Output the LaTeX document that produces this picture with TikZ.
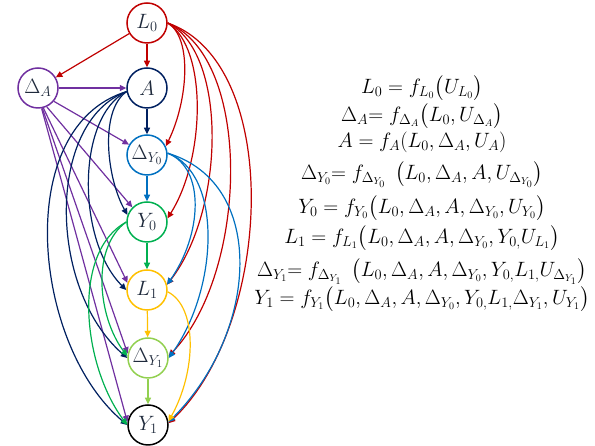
\documentclass[tikz,border=0pt]{standalone}
\usepackage{amsmath}
\usetikzlibrary{arrows.meta}

\definecolor{redL}{HTML}{C00000}
\definecolor{purpleDA}{HTML}{7030A0}
\definecolor{navyA}{HTML}{002060}
\definecolor{blueDY}{HTML}{0070C0}
\definecolor{greenY}{HTML}{00B050}
\definecolor{yellowL}{HTML}{FFC000}
\definecolor{limeDY}{HTML}{92D050}
\definecolor{ink}{HTML}{1F2A3C}

\tikzset{
  var/.style={circle,draw,line width=1.5pt,minimum size=40pt,inner sep=0pt,
    font=\fontsize{21}{24}\selectfont,text=ink},
  edge/.style={line width=1.2pt,-{Triangle[length=6.5pt,width=6pt]}},
  eqline/.style={font=\fontsize{19.5}{22}\selectfont,inner sep=0pt}
}

\begin{document}
\begin{tikzpicture}[x=1pt,y=1pt]
\useasboundingbox (0,0) rectangle (595,446);

\node[var,draw=redL] (L0) at (147,423) {$L_0$};
\node[var,draw=purpleDA] (DA) at (38,358) {$\Delta_A$};
\node[var,draw=navyA] (A) at (147,358) {$A$};
\node[var,draw=blueDY] (DY0) at (147,291) {$\Delta_{Y_0}$};
\node[var,draw=greenY] (Y0) at (147,224) {$Y_0$};
\node[var,draw=yellowL] (L1) at (147,156) {$L_1$};
\node[var,draw=limeDY] (DY1) at (148,88) {$\Delta_{Y_1}$};
\node[var,draw=black] (Y1) at (148,21) {$Y_1$};

% L0
\draw[edge,redL] (L0) -- (DA);
\draw[edge,redL] (L0) -- (A);
\draw[edge,redL] (L0.east) .. controls +(25,-15) and +(22,45) .. (DY0.25);
\draw[edge,redL] (L0.east) .. controls +(40,-25) and +(38,60) .. (Y0.10);
\draw[edge,redL] (L0.east) .. controls +(60,-30) and +(58,75) .. (L1.15);
\draw[edge,redL] (L0.east) .. controls +(85,-35) and +(80,85) .. (DY1.5);
\draw[edge,redL] (L0.east) .. controls +(115,-40) and +(105,100) .. (Y1.5);

% Delta_A
\draw[edge,purpleDA] (DA) -- (A);
\draw[edge,purpleDA] (DA.-40) -- (DY0.150);
\draw[edge,purpleDA] (DA.-65) -- (Y0.135);
\draw[edge,purpleDA] (DA.-75) -- (L1.160);
\draw[edge,purpleDA] (DA.-78) -- (DY1.168);
\draw[edge,purpleDA] (DA.-80) -- (Y1.172);

% A
\draw[edge,navyA] (A) -- (DY0);
\draw[edge,navyA] (A.190) .. controls +(-28,-20) and +(-20,35) .. (Y0.160);
\draw[edge,navyA] (A.190) .. controls +(-50,-25) and +(-50,50) .. (L1.180);
\draw[edge,navyA] (A.190) .. controls +(-80,-30) and +(-80,70) .. (DY1.180);
\draw[edge,navyA] (A.190) .. controls +(-115,-35) and +(-95,80) .. (Y1.180);

% Delta_Y0
\draw[edge,blueDY] (DY0) -- (Y0);
\draw[edge,blueDY] (DY0.5) .. controls +(38,-15) and +(35,50) .. (L1.15);
\draw[edge,blueDY] (DY0.5) .. controls +(55,-20) and +(50,70) .. (DY1.0);
\draw[edge,blueDY] (DY0.5) .. controls +(100,-30) and +(90,90) .. (Y1.8);

% Y0
\draw[edge,greenY] (Y0) -- (L1);
\draw[edge,greenY] (Y0.180) .. controls +(-35,-25) and +(-30,40) .. (DY1.175);
\draw[edge,greenY] (Y0.180) .. controls +(-55,-30) and +(-45,60) .. (Y1.180);

% L1
\draw[edge,yellowL] (L1) -- (DY1);
\draw[edge,yellowL] (L1.-5) .. controls +(30,-15) and +(28,50) .. (Y1.10);

% Delta_Y1
\draw[edge,limeDY] (DY1) -- (Y1);

% structural equations
\node[eqline] (eqL0) at (422,358) {$L_0 = f_{L_0}\bigl(U_{L_0}\bigr)$};
\node[eqline] (eqDA) at (422,330) {$\Delta_A{=}\; f_{\Delta_A}\bigl(L_0, U_{\Delta_A}\bigr)$};
\node[eqline] (eqA) at (422,304) {$A = f_A(L_0, \Delta_A, U_A)$};
\node[eqline] (eqDY0) at (422,271) {$\Delta_{Y_0}{=}\; f_{\Delta_{Y_0}}\;\left(L_0, \Delta_A, A, U_{\Delta_{Y_0}}\right)$};
\node[eqline] (eqY0) at (422,238) {$Y_0 = f_{Y_0}\bigl(L_0, \Delta_A, A, \Delta_{Y_0}, U_{Y_0}\bigr)$};
\node[eqline] (eqL1) at (422,208) {$L_1 = f_{L_1}\bigl(L_0, \Delta_A, A, \Delta_{Y_0}, Y_{0,}U_{L_1}\bigr)$};
\node[eqline] (eqDY1) at (422,174) {$\Delta_{Y_1}{=}\; f_{\Delta_{Y_1}}\;\left(L_0, \Delta_A, A, \Delta_{Y_0}, Y_{0,}L_{1,}U_{\Delta_{Y_1}}\right)$};
\node[eqline] (eqY1) at (422,147) {$Y_1 = f_{Y_1}\bigl(L_0, \Delta_A, A, \Delta_{Y_0}, Y_{0,}L_{1,}\Delta_{Y_1}, U_{Y_1}\bigr)$};

\end{tikzpicture}
\end{document}
